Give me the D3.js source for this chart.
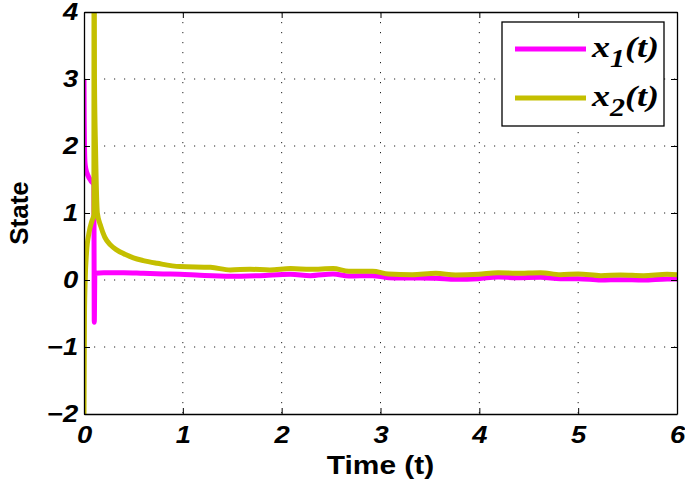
<!DOCTYPE html>
<html>
<head>
<meta charset="utf-8">
<style>
body { margin: 0; background: #fff; }
svg { display: block; }
.tick text { font-family: "Liberation Sans", Arial, sans-serif; font-weight: bold; font-style: italic; font-size: 24px; fill: #000; }
.grid line { stroke: #222; stroke-width: 1; stroke-dasharray: 1.2,8.8; }
.axislabel { font-family: "Liberation Sans", Arial, sans-serif; font-weight: bold; font-size: 26px; }
.legend text { font-family: "Liberation Serif", "Times New Roman", serif; font-weight: bold; font-style: italic; }
</style>
<script src="https://cdn.jsdelivr.net/npm/d3@7"></script>
</head>
<body>
<script>
// time axis ticks and state ticks
var xTicks = [0, 1, 2, 3, 4, 5, 6];
var yTicks = [-2, -1, 0, 1, 2, 3, 4];

// x1(t)
var t1 = [0, 0.002, 0.005, 0.01, 0.02, 0.04, 0.07, 0.1, 0.104, 0.11, 0.2, 0.4, 0.6, 0.8, 0.97, 1.17, 1.48, 1.78, 2.09, 2.29, 2.52, 2.68, 2.92, 3.08, 3.32, 3.56, 3.76, 3.99, 4.19, 4.37, 4.62, 4.82, 5.0, 5.23, 5.43, 5.66, 5.9, 6.0];
var x1 = [3, 2.4, 2.0, 1.75, 1.65, 1.56, 1.48, 1.42, -0.63, 0.1, 0.11, 0.11, 0.1, 0.09, 0.085, 0.07, 0.055, 0.065, 0.085, 0.065, 0.09, 0.06, 0.065, 0.035, 0.03, 0.025, 0.01, 0.02, 0.045, 0.035, 0.04, 0.02, 0.02, 0.0, 0.005, 0.0, 0.015, 0.015];

// x2(t)
var t2 = [0, 0.005, 0.012, 0.025, 0.05, 0.08, 0.1, 0.102, 0.106, 0.117, 0.135, 0.17, 0.21, 0.27, 0.33, 0.42, 0.5, 0.6, 0.74, 0.97, 1.28, 1.48, 1.68, 1.88, 2.09, 2.29, 2.52, 2.68, 2.92, 3.08, 3.32, 3.56, 3.76, 3.99, 4.19, 4.37, 4.62, 4.82, 5.0, 5.23, 5.43, 5.66, 5.9, 6.0];
var x2 = [-2, -0.5, 0.0, 0.4, 0.7, 0.88, 0.97, 6, 3.0, 1.94, 1.0, 0.8, 0.64, 0.52, 0.45, 0.38, 0.33, 0.29, 0.25, 0.2, 0.19, 0.15, 0.16, 0.15, 0.17, 0.16, 0.17, 0.13, 0.13, 0.09, 0.08, 0.1, 0.075, 0.085, 0.11, 0.1, 0.11, 0.08, 0.09, 0.065, 0.075, 0.065, 0.085, 0.08];

var seriesNames = ["1", "2"];
var colors = ["#ff00ff", "#c4bf00"];

var width = 685, height = 480;
var margin = {top: 12, right: 8, bottom: 66, left: 84};
var w = width - margin.left - margin.right,
    h = height - margin.top - margin.bottom;

var svg = d3.select("body").append("svg")
  .attr("width", width)
  .attr("height", height);

var g = svg.append("g")
  .attr("transform", "translate(" + margin.left + "," + margin.top + ")");

var x = d3.scaleLinear().domain([0, 6]).range([0, w]);
var y = d3.scaleLinear().domain([-2, 4]).range([h, 0]);

// dotted grid
var grid = g.append("g").attr("class", "grid");
grid.selectAll("line.v").data(xTicks.slice(1, -1)).enter().append("line")
  .attr("x1", x).attr("x2", x).attr("y1", 0).attr("y2", h);
grid.selectAll("line.h").data(yTicks.slice(1, -1)).enter().append("line")
  .attr("y1", y).attr("y2", y).attr("x1", 0).attr("x2", w);

g.append("defs").append("clipPath").attr("id", "clip")
  .append("rect").attr("width", w).attr("height", h);

var line = d3.line()
  .x(function(d) { return x(d[0]); })
  .y(function(d) { return y(d[1]); })
  .curve(d3.curveMonotoneX);

var data = [d3.zip(t1, x1), d3.zip(t2, x2)];

var lines = g.append("g").attr("clip-path", "url(#clip)");
lines.selectAll("path").data(data).enter().append("path")
  .attr("d", line)
  .attr("fill", "none")
  .attr("stroke", function(d, i) { return colors[i]; })
  .attr("stroke-width", 5)
  .attr("stroke-linejoin", "round");

// axes with inward ticks on all four sides
var xAxis = g.append("g").attr("transform", "translate(0," + h + ")")
  .call(d3.axisBottom(x).tickValues(xTicks).tickFormat(d3.format("d"))
    .tickSizeInner(-6).tickSizeOuter(0).tickPadding(12));
var yAxis = g.append("g")
  .call(d3.axisLeft(y).tickValues(yTicks).tickSizeInner(-6).tickSizeOuter(0).tickPadding(5)
    .tickFormat(function(d) { return d < 0 ? "\u2212" + Math.abs(d) : d; }));
g.append("g")
  .call(d3.axisTop(x).tickValues(xTicks).tickSizeInner(-6).tickSizeOuter(0).tickFormat(""));
g.append("g").attr("transform", "translate(" + w + ",0)")
  .call(d3.axisRight(y).tickValues(yTicks).tickSizeInner(-6).tickSizeOuter(0).tickFormat(""));

// the reference type is a bit wider than Liberation Sans
xAxis.selectAll(".tick text").attr("transform", "scale(1.14,1)");
yAxis.selectAll(".tick text").attr("transform", "scale(1.14,1)");

g.selectAll(".domain").attr("stroke", "#000").attr("stroke-width", 1.3);
g.selectAll(".tick line").attr("stroke", "#000");

// axis titles
g.append("text").attr("class", "axislabel")
  .attr("transform", "translate(" + (w / 2) + "," + (h + 60) + ") scale(1.15,1)")
  .attr("text-anchor", "middle")
  .text("Time (t)");
g.append("text").attr("class", "axislabel")
  .attr("transform", "translate(" + (-margin.left + 28) + "," + (h / 2) + ") rotate(-90)")
  .attr("text-anchor", "middle")
  .text("State");

// legend
var legend = svg.append("g").attr("class", "legend")
  .attr("transform", "translate(502,22)");
legend.append("rect")
  .attr("width", 162).attr("height", 104)
  .attr("fill", "#fff").attr("stroke", "#000").attr("stroke-width", 1.3);
var item = legend.selectAll("g.item").data(seriesNames).enter().append("g")
  .attr("class", "item")
  .attr("transform", function(d, i) { return "translate(0," + (27 + i * 49) + ")"; });
item.append("line")
  .attr("x1", 13).attr("x2", 84)
  .attr("stroke", function(d, i) { return colors[i]; })
  .attr("stroke-width", 5);
var label = item.append("text")
  .attr("transform", "translate(90,8) scale(1.2,1)")
  .style("font-size", "30px");
label.append("tspan").text("x");
label.append("tspan").attr("dy", 10).style("font-size", "25px").text(function(d) { return d; });
label.append("tspan").attr("dy", -10).text("(t)");
</script>
</body>
</html>
